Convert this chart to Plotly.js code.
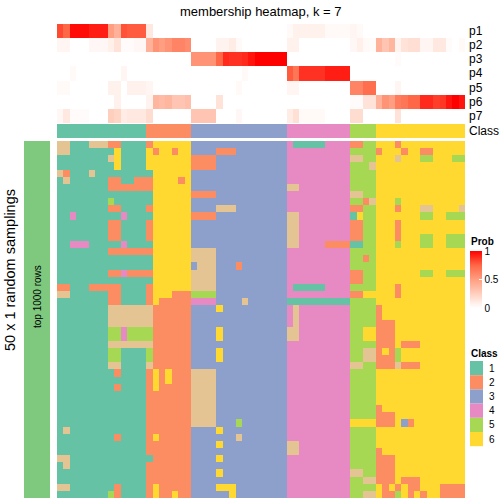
<!DOCTYPE html>
<html>
<head>
<meta charset="utf-8">
<script src="https://cdn.plot.ly/plotly-3.0.1.min.js"></script>
<style>html,body{margin:0;padding:0;background:#fff;}#chart{width:504px;height:504px;}</style>
</head>
<body>
<div id="chart"></div>
<script>
// ---------------- data ----------------
const title = "membership heatmap, k = 7";
const probLabels = ["p1","p2","p3","p4","p5","p6","p7"];
const classNames = ["1","2","3","4","5","6"];
const classColors = ["#66C2A5","#FC8D62","#8DA0CB","#E78AC3","#A6D854","#FFD92F","#E5C494"];
const leftBarColor = "#7FC97F";
const leftBarLabel = "top 1000 rows";
const leftTitle = "50 x 1 random samplings";

// consensus class of each of the 64 columns
const columnClass = "11111111111111 2222222 333333333333333 4444444444 5555 66666666666666";

// membership probabilities (64 columns each)
const p1 = [0.82,0.75,0.97,0.97,0.97,0.93,0.93,0.93,0.5,0.4,0.8,0.78,0.78,0.78, 0.12,0,0,0,0,0,0, 0,0,0,0,0,0,0,0,0,0,0,0,0,0,0, 0.03,0.07,0.07,0.07,0.07,0.07,0.03,0.03,0.03,0.03, 0.05,0.03,0,0, 0,0,0,0,0,0,0,0,0,0,0,0,0,0];
const p2 = [0.05,0.05,0,0,0,0.04,0.04,0.04,0.08,0.15,0.02,0.02,0.04,0.04, 0.4,0.55,0.5,0.55,0.62,0.62,0.58, 0,0,0,0,0.06,0.06,0.1,0.03,0,0,0,0,0,0,0, 0.07,0.07,0,0,0,0,0,0,0,0, 0.04,0.08,0.03,0.02, 0.4,0.3,0.38,0.06,0.15,0.17,0.17,0.05,0.05,0.12,0.12,0.02,0,0.03];
const p3 = [0,0,0,0,0,0,0,0,0,0,0,0,0,0, 0,0,0,0,0,0,0, 0.55,0.55,0.55,0.55,0.75,0.9,0.88,0.88,0.9,0.95,1,1,1,1,1, 0,0,0,0,0,0,0,0,0,0, 0,0,0,0, 0,0,0,0.02,0,0,0,0,0,0,0,0,0,0];
const p4 = [0,0,0.03,0,0,0,0,0,0,0,0.05,0,0,0, 0,0,0,0,0,0,0, 0,0,0,0,0,0,0,0,0.03,0,0,0,0,0,0, 0.78,0.68,0.88,0.88,0.88,0.88,0.93,0.93,0.93,0.93, 0,0,0,0, 0,0,0,0,0,0,0,0,0,0,0,0,0,0];
const p5 = [0.03,0.03,0,0,0,0,0,0,0.07,0.07,0,0.07,0.07,0.07, 0.05,0,0,0,0,0,0, 0,0,0,0,0,0,0,0.03,0,0,0,0,0,0,0, 0.05,0.05,0,0,0,0,0,0,0,0, 0.62,0.62,0.72,0.72, 0,0,0,0.05,0,0,0,0,0,0,0,0,0,0];
const p6 = [0,0,0,0,0,0,0,0,0,0.07,0,0,0,0, 0.06,0.38,0.35,0.38,0.3,0.3,0.33, 0,0,0,0,0.15,0,0,0,0,0,0,0,0,0,0, 0,0,0,0,0,0,0,0,0,0, 0.02,0.02,0.15,0.15, 0.4,0.55,0.5,0.65,0.68,0.75,0.75,0.9,0.9,0.85,0.87,0.95,1,0.95];
const p7 = [0.04,0.12,0.02,0.02,0.02,0,0,0,0.25,0.22,0.1,0.12,0.12,0.12, 0.18,0,0,0,0,0,0, 0.3,0.3,0.3,0.3,0,0,0,0.04,0,0,0,0,0,0,0, 0.1,0.16,0.03,0.03,0.03,0.03,0,0,0,0, 0.18,0.18,0,0, 0,0,0,0.15,0,0,0,0,0,0,0,0,0,0];

// class assigned in each of the 50 random samplings (rows) for each column (7 = extra class)
const samplings = [
"77111777221111 2666666 333333333333333 4111114444 2255 66626666666666",
"77111111161111 6266266 333322233333333 4444444444 5555 26662662266666",
"11111111761111 6666666 222233333333333 4444444444 7755 66676665566655",
"11111111161111 6666666 222233333333333 4444444444 5557 66666666666666",
"72111711111111 1666666 333333333333333 4444444444 5555 66666666666666",
"17111111221122 2666626 333333333333333 4444444444 5555 66666666666666",
"11111111222222 2666666 333333333333333 7744444444 5555 66666666666666",
"11111111111111 1666666 222233333333333 4444444444 7755 66666666666666",
"11111111511111 1666666 333333333333333 4444444444 5527 66656666666666",
"11111111221111 2666666 333377733333333 4444444444 2255 66626667766667",
"11411111114111 1666666 222233333333333 7744444444 1655 66666665566555",
"11111111221111 2666666 333333333333333 7744444444 2255 66626666666666",
"11111111221111 2666666 333333333333333 7744444444 2255 66626666666666",
"11111111221111 2666666 333333333333333 7744444444 2255 66626665566555",
"11444111114111 1666666 333333333333333 7744442222 1155 66656665566555",
"11111111222222 2666666 777733333333333 4444444444 5555 66666666666666",
"11111111111111 1666666 777733333333333 4444444444 5525 66666666666666",
"11111111111111 1666666 377733323333333 4444444444 5555 66666666666666",
"11111111224222 2666666 777733333333333 4444444444 2255 66666665566555",
"11111111111111 1666666 777733333333333 4444444444 2255 66666666666666",
"22111222221111 2666666 777733333333333 4111114444 5555 66626666666666",
"77111111221111 2666222 555533333333333 4444444444 2266 66626666666666",
"11111111221111 2622222 444433337333333 1111111111 5555 66666666666666",
"11111111777777 7222222 333363333333333 4744444444 5555 26666666666666",
"11111111777777 7222222 333333333333333 4744444444 5555 26666666666666",
"11111111777777 7222222 333333333333333 4744444444 5555 22266666666666",
"11111111554555 5222222 333363333333333 7744444444 5566 22266666666666",
"11111111554555 5222222 333363333333333 7744444444 5566 22266666666666",
"11111111777777 7222222 333333333333333 4444444444 5555 22262226666666",
"11111111551111 5222222 333363333333333 4444444444 5577 26256666666666",
"11111111551111 5222222 333363333333333 4444444444 5577 22256666666666",
"11111111771111 7222222 333333333333333 4444444444 7755 22272226666666",
"11111111121111 2626222 777733333333333 4444444444 5555 66666666666666",
"11111111111111 2626222 777733333333333 4444444444 5555 66666666666666",
"11111111121111 2622222 777733333333333 4444444444 5555 66666666666666",
"11111111111111 2222222 777733333333333 4444444444 5555 66666666666666",
"11111111111111 2222222 777733333333333 4444444444 5555 66666666666666",
"11111111111111 2222222 777733333333333 4444444444 5555 26666666666666",
"11111111111111 2222222 777733333333333 4444444444 5555 22266666666666",
"11111111111111 2222222 777733353333333 4444444444 6666 22263266666666",
"17111111111111 2222222 333363333333333 4444444444 5555 66666666666666",
"11111111121111 2622222 333333373333333 4444444444 5555 66666666666666",
"11111111111111 2222222 333363333333333 7744444444 5555 66666666666666",
"11111111111111 2222222 333333333333333 7744444444 5555 26666666666666",
"77111111111111 1222222 333363333333333 4444444444 5555 22266666666666",
"17111111111111 2222222 333333333333333 4444444444 5555 22266666666666",
"11111111111111 2222222 333363333333333 4444444444 7755 22266666666666",
"11111111111111 2222222 333333333333333 4444444444 5577 22262226666666",
"77111111121111 2622222 333366633333333 4444444444 5555 62626226662222",
"11111111521111 2622622 333333633333333 4444444444 5577 62256262662222"
];

// ---------------- build ----------------
const W = 504, H = 504;
const px = v => v / W;
const py = v => 1 - v / H;
const toNums = s => s.replace(/ /g, "").split("").map(Number);

const zMain = samplings.map(toNums);
const zClass = [toNums(columnClass)];
const nCol = zClass[0].length;
const nRow = zMain.length;
const cols = Array.from({length: nCol}, (_, i) => i);
const rows = Array.from({length: nRow}, (_, i) => i);

// stepped scale for discrete classes 1..7
const nC = classColors.length;
const discrete = [];
classColors.forEach((c, k) => { discrete.push([k / nC, c]); discrete.push([(k + 1) / nC, c]); });

const probScale = [[0, "#FFFFFF"], [0.25, "#FFCFBE"], [0.5, "#FF9E81"], [0.75, "#FF6746"], [1, "#FF0000"]];

const FONT = "Liberation Sans, Arial, Helvetica, sans-serif";

const traces = [
  { type: "heatmap", x: cols, y: rows, z: zMain, xaxis: "x", yaxis: "y",
    colorscale: discrete, zmin: 0.5, zmax: nC + 0.5, showscale: false, hoverinfo: "skip" },
  { type: "heatmap", x: cols, y: [0], z: zClass, xaxis: "x", yaxis: "y2",
    colorscale: discrete, zmin: 0.5, zmax: nC + 0.5, showscale: false, hoverinfo: "skip" },
  { type: "heatmap", x: cols, y: probLabels.map((_, i) => i), z: [p1, p2, p3, p4, p5, p6, p7],
    xaxis: "x", yaxis: "y3", colorscale: probScale, zmin: 0, zmax: 1, hoverinfo: "skip",
    showscale: true,
    colorbar: { x: px(470), xanchor: "left", y: py(251), yanchor: "top",
      lenmode: "pixels", len: 57, thickness: 12, thicknessmode: "pixels",
      xpad: 0, ypad: 0, outlinewidth: 0,
      tickvals: [0, 0.5, 1], ticktext: ["0", "0.5", "1"],
      ticks: "inside", ticklen: 3, tickcolor: "#FFFFFF",
      tickfont: { family: FONT, size: 10, color: "#000" } } },
  { type: "heatmap", x: [0], y: rows, z: rows.map(() => [1]), xaxis: "x2", yaxis: "y",
    colorscale: [[0, leftBarColor], [1, leftBarColor]], showscale: false, hoverinfo: "skip" }
];

const annotations = [];
const shapes = [];
annotations.push({ text: title, x: px(261), y: py(11), xref: "paper", yref: "paper",
  xanchor: "center", yanchor: "middle", showarrow: false, font: { family: FONT, size: 13, color: "#000" } });
probLabels.forEach((t, i) => annotations.push({ text: t, x: px(467), y: py(31 + 14.15 * i),
  xref: "paper", yref: "paper", xanchor: "left", yanchor: "middle", showarrow: false,
  font: { family: FONT, size: 12, color: "#000" } }));
annotations.push({ text: "Class", x: px(467), y: py(131), xref: "paper", yref: "paper",
  xanchor: "left", yanchor: "middle", showarrow: false, font: { family: FONT, size: 12, color: "#000" } });
annotations.push({ text: leftTitle, x: px(10), y: py(270), xref: "paper", yref: "paper",
  xanchor: "center", yanchor: "middle", textangle: -90, showarrow: false,
  font: { family: FONT, size: 14.5, color: "#000" } });
annotations.push({ text: leftBarLabel, x: px(37), y: py(297), xref: "paper", yref: "paper",
  xanchor: "center", yanchor: "middle", textangle: -90, showarrow: false,
  font: { family: FONT, size: 10, color: "#000" } });
// legend titles
annotations.push({ text: "<b>Prob</b>", x: px(469), y: py(241), xref: "paper", yref: "paper",
  xanchor: "left", yanchor: "middle", showarrow: false, font: { family: FONT, size: 10, color: "#000" } });
annotations.push({ text: "<b>Class</b>", x: px(469), y: py(353), xref: "paper", yref: "paper",
  xanchor: "left", yanchor: "middle", showarrow: false, font: { family: FONT, size: 10, color: "#000" } });
classNames.forEach((t, k) => {
  const top = 361 + 14.2 * k;
  shapes.push({ type: "rect", xref: "paper", yref: "paper", x0: px(470), x1: px(483),
    y0: py(top), y1: py(top + 14.2), fillcolor: classColors[k], line: { width: 0 } });
  annotations.push({ text: t, x: px(487), y: py(top + 7.1), xref: "paper", yref: "paper",
    xanchor: "left", yanchor: "middle", showarrow: false, font: { family: FONT, size: 10, color: "#000" } });
});

const hidden = { visible: false, showgrid: false, zeroline: false, fixedrange: true };
const layout = {
  width: W, height: H, margin: { l: 0, r: 0, t: 0, b: 0 },
  paper_bgcolor: "#FFFFFF", plot_bgcolor: "rgba(0,0,0,0)", showlegend: false,
  xaxis: Object.assign({ domain: [px(57), px(465)], range: [-0.5, nCol - 0.5], anchor: "y" }, hidden),
  xaxis2: Object.assign({ domain: [px(24), px(50)], range: [-0.5, 0.5], anchor: "y" }, hidden),
  yaxis: Object.assign({ domain: [py(498), py(141)], range: [nRow - 0.5, -0.5], anchor: "x" }, hidden),
  yaxis2: Object.assign({ domain: [py(138), py(124)], range: [0.5, -0.5], anchor: "x" }, hidden),
  yaxis3: Object.assign({ domain: [py(123), py(24)], range: [probLabels.length - 0.5, -0.5], anchor: "x" }, hidden),
  annotations: annotations, shapes: shapes
};

Plotly.newPlot("chart", traces, layout, { staticPlot: true, displayModeBar: false });
</script>
</body>
</html>
